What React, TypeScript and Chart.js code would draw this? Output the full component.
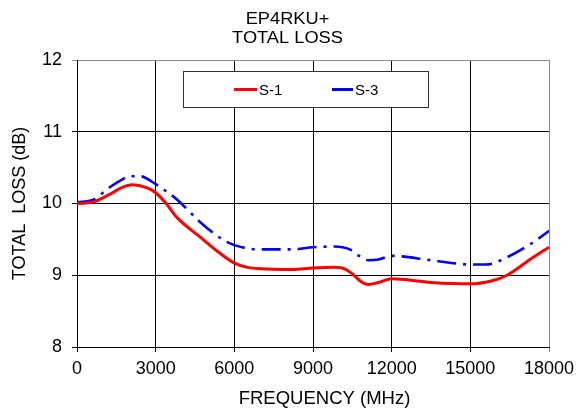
import React, { useEffect, useRef } from "react";
import { Chart, registerables } from "chart.js";

Chart.register(...registerables);

const titleLines = ["EP4RKU+", "TOTAL LOSS"];
const xTitle = "FREQUENCY (MHz)";
const yTitle = "TOTAL  LOSS (dB)";
const seriesNames = ["S-1", "S-3"];

const s1Freq = [0, 600, 1260, 1700, 2100, 2650, 3000, 3400, 3800, 4700, 5400, 6000, 6500, 7000, 8200, 9000, 9800, 10200, 10500, 10800, 11100, 11500, 12000, 13500, 15000, 15800, 16400, 17400, 18000];
const s1Loss = [10.0, 10.02, 10.13, 10.22, 10.26, 10.22, 10.15, 10.0, 9.81, 9.53, 9.32, 9.17, 9.11, 9.09, 9.08, 9.1, 9.11, 9.09, 9.02, 8.92, 8.87, 8.9, 8.95, 8.9, 8.88, 8.92, 9.0, 9.25, 9.39];

const s3Freq = [0, 600, 1260, 1700, 2000, 2400, 3000, 3400, 3800, 4700, 5500, 6000, 7000, 8200, 9000, 9800, 10400, 10800, 11100, 11500, 12000, 13500, 15000, 15600, 16400, 17400, 18000];
const s3Loss = [10.02, 10.05, 10.23, 10.33, 10.38, 10.38, 10.27, 10.17, 10.06, 9.74, 9.51, 9.42, 9.36, 9.36, 9.39, 9.4, 9.36, 9.26, 9.21, 9.22, 9.27, 9.21, 9.15, 9.15, 9.25, 9.46, 9.62];

const xMin = 0, xMax = 18000, xStep = 3000;
const yMin = 8, yMax = 12, yStep = 1;

const FONT = "'Liberation Sans', Arial, sans-serif";
const RED = "#ff0000";
const BLUE = "#0000ff";

const toPts = (xs: number[], ys: number[]) => xs.map((x, i) => ({ x, y: ys[i] }));

const overlayPlugin = {
  id: "overlay",
  afterDraw(chart: any) {
    const ctx = chart.ctx as CanvasRenderingContext2D;
    const area = chart.chartArea;
    ctx.save();
    // title (slightly wide lettering)
    ctx.fillStyle = "#000";
    ctx.font = `16px ${FONT}`;
    ctx.textAlign = "center";
    ctx.textBaseline = "alphabetic";
    const tcx = 287.5;
    ctx.save();
    ctx.translate(tcx, 0);
    ctx.scale(1.14, 1);
    ctx.fillText(titleLines[0], 0, 24);
    ctx.fillText(titleLines[1], 0, 43.3);
    ctx.restore();
    // x axis title
    ctx.font = `18.5px ${FONT}`;
    ctx.fillText(xTitle, (area.left + area.right) / 2 + 11.5, 404.3);
    // legend box
    const bx = 183.5, by = 71.5, bw = 245, bh = 36;
    ctx.fillStyle = "#fff";
    ctx.fillRect(bx, by, bw, bh);
    ctx.strokeStyle = "#333";
    ctx.lineWidth = 1;
    ctx.strokeRect(bx, by, bw, bh);
    const ly = 89.5;
    const entries = [
      { x0: 234, x1: 257, color: RED, label: seriesNames[0] },
      { x0: 332, x1: 353, color: BLUE, label: seriesNames[1] },
    ];
    ctx.font = `15px ${FONT}`;
    ctx.textAlign = "left";
    ctx.textBaseline = "middle";
    for (const e of entries) {
      ctx.strokeStyle = e.color;
      ctx.lineWidth = 3;
      ctx.beginPath();
      ctx.moveTo(e.x0, ly);
      ctx.lineTo(e.x1, ly);
      ctx.stroke();
      ctx.fillStyle = "#000";
      ctx.fillText(e.label, e.x1 + 2, ly + 1);
    }
    ctx.restore();
  },
};

export default function App() {
  const ref = useRef<HTMLCanvasElement | null>(null);
  useEffect(() => {
    if (!ref.current) return;
    const chart = new Chart(ref.current, {
      type: "line",
      data: {
        datasets: [
          {
            label: seriesNames[0],
            data: toPts(s1Freq, s1Loss),
            borderColor: RED,
            backgroundColor: RED,
            borderWidth: 3,
            pointRadius: 0,
            cubicInterpolationMode: "monotone",
            fill: false,
          },
          {
            label: seriesNames[1],
            data: toPts(s3Freq, s3Loss),
            borderColor: BLUE,
            backgroundColor: BLUE,
            borderWidth: 2.6,
            borderDash: [19, 7, 3, 7],
            pointRadius: 0,
            cubicInterpolationMode: "monotone",
            fill: false,
          },
        ],
      },
      options: {
        animation: false,
        responsive: true,
        maintainAspectRatio: false,
        devicePixelRatio: 1,
        layout: { padding: { top: 60, right: 28, left: 0, bottom: 0 } },
        plugins: {
          legend: { display: false },
          title: { display: false },
          tooltip: { enabled: false },
        },
        scales: {
          x: {
            type: "linear",
            min: xMin,
            max: xMax,
            ticks: {
              stepSize: xStep,
              color: "#000",
              font: { family: FONT, size: 18 },
              padding: 6,
              maxRotation: 0,
              callback: (v: any) => String(v),
            },
            grid: {
              color: (c: any) => (c.tick && c.tick.value === xMax ? "#888" : "#000"),
              lineWidth: 1,
              tickLength: 5,
            },
            border: { color: "#000", width: 1 },
            title: { display: false, text: xTitle },
            afterFit: (s: any) => {
              s.height = 62;
              s.paddingLeft = 0;
              s.paddingRight = 0;
            },
          },
          y: {
            type: "linear",
            min: yMin,
            max: yMax,
            ticks: {
              stepSize: yStep,
              color: "#000",
              font: { family: FONT, size: 18 },
              padding: 10,
              callback: (v: any) => String(v),
            },
            grid: {
              color: (c: any) => (c.tick && c.tick.value === yMax ? "#888" : "#000"),
              lineWidth: 1,
              tickLength: 5,
            },
            border: { color: "#000", width: 1 },
            title: { display: true, text: yTitle, color: "#000", font: { family: FONT, size: 18 }, padding: { top: 9, bottom: 0 } },
            afterFit: (s: any) => { s.width = 77; },
          },
        },
      },
      plugins: [overlayPlugin],
    } as any);
    return () => chart.destroy();
  }, []);
  return (
    <div style={{ position: "fixed", left: 0, top: 0, width: 577, height: 409, background: "#fff" }}>
      <canvas ref={ref} />
    </div>
  );
}
